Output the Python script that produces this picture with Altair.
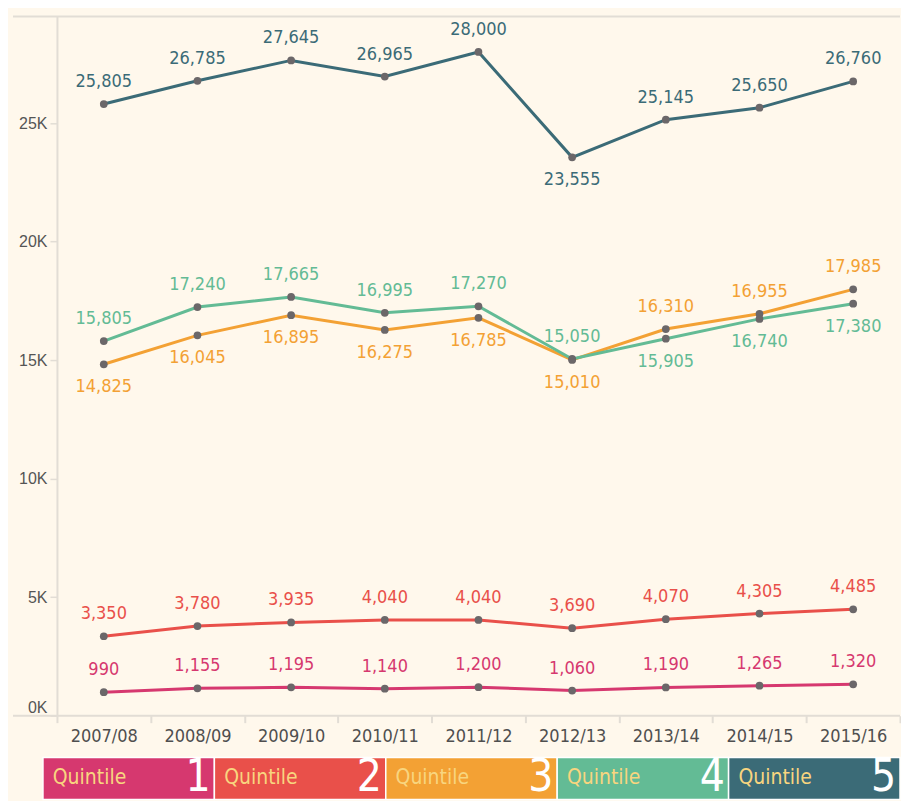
import altair as alt
import pandas as pd

years = ["2007/08", "2008/09", "2009/10", "2010/11", "2011/12",
         "2012/13", "2013/14", "2014/15", "2015/16"]
quintiles = ["Quintile 1", "Quintile 2", "Quintile 3", "Quintile 4", "Quintile 5"]
legend_words = ["Quintile", "Quintile", "Quintile", "Quintile", "Quintile"]
legend_nums = ["1", "2", "3", "4", "5"]

q1 = [990, 1155, 1195, 1140, 1200, 1060, 1190, 1265, 1320]
q2 = [3350, 3780, 3935, 4040, 4040, 3690, 4070, 4305, 4485]
q3 = [14825, 16045, 16895, 16275, 16785, 15010, 16310, 16955, 17985]
q4 = [15805, 17240, 17665, 16995, 17270, 15050, 15905, 16740, 17380]
q5 = [25805, 26785, 27645, 26965, 28000, 23555, 25145, 25650, 26760]

# label placement relative to each point
pos_q1 = ["above", "above", "above", "above", "above", "above", "above", "above", "above"]
pos_q2 = ["above", "above", "above", "above", "above", "above", "above", "above", "above"]
pos_q3 = ["below", "below", "below", "below", "below", "below", "above", "above", "above"]
pos_q4 = ["above", "above", "above", "above", "above", "above", "below", "below", "below"]
pos_q5 = ["above", "above", "above", "above", "above", "below", "above", "above", "above"]

colors = ["#D6386F", "#E9504A", "#F3A134", "#63BB95", "#3B6B77"]
y_ticks = [0, 5000, 10000, 15000, 20000, 25000]

rows = []
for q, vals, pos in zip(quintiles, [q1, q2, q3, q4, q5],
                        [pos_q1, pos_q2, pos_q3, pos_q4, pos_q5]):
    for yr, v, p in zip(years, vals, pos):
        rows.append({"year": yr, "quintile": q, "value": v, "pos": p})
df = pd.DataFrame(rows)
leg_df = pd.DataFrame({"q": quintiles, "word": legend_words, "num": legend_nums})

W, H = 844, 700
LEG_H = 42
FONT_N = "Liberation Sans Narrow, DejaVu Sans Condensed, Arial Narrow, sans-serif"
FONT_R = "Liberation Sans, Arial, sans-serif"
LINE_C = "#E2DDD5"

color = alt.Color("quintile:N", scale=alt.Scale(domain=quintiles, range=colors), legend=None)

x = alt.X("year:N", sort=years,
          scale=alt.Scale(type="band", paddingInner=0, paddingOuter=0),
          axis=alt.Axis(title=None, labelAngle=0, tickBand="extent", tickSize=7,
                        tickColor=LINE_C, tickWidth=2, domain=False,
                        labelFont=FONT_N, labelFontSize=18, labelColor="#4F4F4F",
                        labelPadding=5, minExtent=30, maxExtent=30))
y = alt.Y("value:Q", scale=alt.Scale(domain=[0, 29500], nice=False),
          axis=alt.Axis(title=None, values=y_ticks, labelExpr="(datum.value/1000) + 'K'",
                        tickSize=7, tickColor=LINE_C, tickWidth=1.5,
                        domainColor=LINE_C, domainWidth=2, grid=False,
                        labelFont=FONT_R, labelFontSize=16, labelColor="#555555",
                        labelPadding=3, labelFlush=True, minExtent=49, maxExtent=49))

base = alt.Chart(df)
lines = base.mark_line(strokeWidth=3).encode(x=x, y=y, color=color)
pts = base.mark_circle(size=60, color="#6B6769", opacity=1).encode(x=x, y=y)
txt_above = base.transform_filter("datum.pos == 'above'").mark_text(
    dy=-22, fontSize=18, font=FONT_N).encode(
    x=x, y=y, text=alt.Text("value:Q", format=","), color=color)
txt_below = base.transform_filter("datum.pos == 'below'").mark_text(
    dy=23, fontSize=18, font=FONT_N).encode(
    x=x, y=y, text=alt.Text("value:Q", format=","), color=color)

one = alt.Chart(pd.DataFrame({"a": [0]}))
top_rule = one.mark_rule(color=LINE_C, strokeWidth=2).encode(
    x=alt.value(-44), x2=alt.value(W), y=alt.value(0))
bot_rule = one.mark_rule(color=LINE_C, strokeWidth=2).encode(
    x=alt.value(-44), x2=alt.value(W), y=alt.value(H))

main = alt.layer(top_rule, bot_rule, lines, pts, txt_above, txt_below).properties(
    width=W, height=H)

xl = alt.X("q:N", sort=quintiles,
           scale=alt.Scale(type="band", range=[-14, W], paddingInner=0, paddingOuter=0),
           axis=None)
lcolor = alt.Color("q:N", scale=alt.Scale(domain=quintiles, range=colors), legend=None)
lbase = alt.Chart(leg_df)
rects = lbase.mark_rect(stroke="white", strokeWidth=1.5).encode(x=xl, color=lcolor)
words = lbase.mark_text(align="left", baseline="alphabetic", dx=-76, fontSize=21,
                        font=FONT_N, color="#F8D57F").encode(
    x=xl, y=alt.value(26), text="word:N")
nums = lbase.mark_text(align="right", baseline="alphabetic", dx=82, fontSize=44,
                       font=FONT_N, color="white").encode(
    x=xl, y=alt.value(33), text="num:N")
legend = alt.layer(rects, words, nums).properties(width=W, height=LEG_H)

chart = alt.vconcat(main, legend, spacing=10).properties(
    background="#FFF8EC",
    padding={"left": 0, "top": 7, "right": 0, "bottom": 0},
).configure_view(stroke=None)

chart.save("out.html", embed_options={"renderer": "svg", "actions": False})
